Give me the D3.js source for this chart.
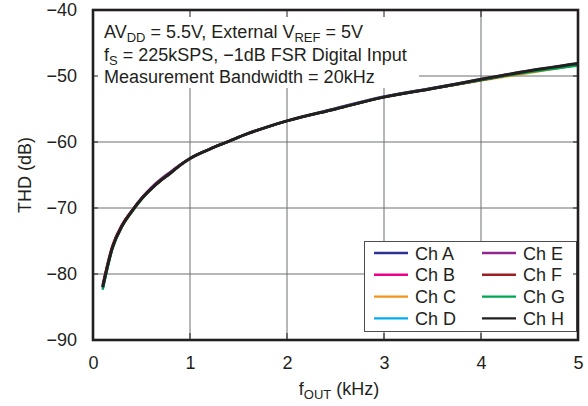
<!DOCTYPE html>
<html>
<head>
<meta charset="utf-8">
<script src="https://cdn.jsdelivr.net/npm/d3@7"></script>
<style>
  html, body { margin: 0; padding: 0; background: #fff; }
  svg { display: block; font-family: "Liberation Sans", Arial, Helvetica, sans-serif; }
</style>
</head>
<body>
<svg id="chart" width="588" height="406"></svg>
<script>
// ---- data ----
const freqKHz = [0.1,0.2,0.3,0.4,0.5,0.6,0.7,0.8,0.9,1.0,1.2,1.4,1.6,1.8,2.0,2.5,3.0,3.5,4.0,4.5,5.0];
const chA = [-81.9,-76.0,-72.7,-70.5,-68.6,-67.0,-65.8,-64.6,-63.5,-62.5,-61.1,-59.9,-58.7,-57.7,-56.8,-54.9,-53.1,-51.8,-50.5,-49.2,-48.1];
const chB = [-81.8,-75.9,-72.6,-70.5,-68.6,-67.1,-65.8,-64.7,-63.5,-62.5,-61.1,-59.9,-58.7,-57.7,-56.8,-55.0,-53.2,-51.9,-50.6,-49.3,-48.2];
const chC = [-82.1,-76.1,-72.8,-70.6,-68.7,-67.1,-65.8,-64.7,-63.5,-62.5,-61.1,-59.9,-58.7,-57.7,-56.8,-55.0,-53.2,-51.9,-50.7,-49.5,-48.3];
const chD = [-82.2,-76.1,-72.7,-70.5,-68.6,-67.1,-65.8,-64.7,-63.5,-62.5,-61.1,-59.9,-58.7,-57.7,-56.8,-55.0,-53.2,-51.9,-50.6,-49.3,-48.2];
const chE = [-81.9,-76.0,-72.6,-70.4,-68.5,-66.9,-65.6,-64.5,-63.4,-62.5,-61.1,-59.9,-58.7,-57.7,-56.8,-55.0,-53.2,-51.9,-50.6,-49.3,-48.2];
const chF = [-81.6,-75.7,-72.5,-70.4,-68.6,-67.1,-65.8,-64.7,-63.5,-62.5,-61.1,-59.9,-58.7,-57.7,-56.8,-55.0,-53.2,-51.9,-50.6,-49.3,-48.2];
const chG = [-82.4,-76.2,-72.8,-70.6,-68.7,-67.1,-65.8,-64.7,-63.5,-62.5,-61.1,-59.9,-58.7,-57.7,-56.8,-55.0,-53.2,-51.9,-50.6,-49.4,-48.4];
const chH = [-82.0,-76.0,-72.7,-70.5,-68.6,-67.1,-65.8,-64.7,-63.5,-62.5,-61.1,-59.9,-58.7,-57.7,-56.8,-55.0,-53.2,-51.9,-50.5,-49.2,-48.1];
const seriesNames = ["Ch A","Ch B","Ch C","Ch D","Ch E","Ch F","Ch G","Ch H"];
const seriesColors = ["#2e3192","#ec008c","#f7941d","#00aeef","#92278f","#9e1f24","#00a651","#231f20"];
const xTicks = [0,1,2,3,4,5];
const yTicks = [-90,-80,-70,-60,-50,-40];

const allSeries = [chA,chB,chC,chD,chE,chF,chG,chH];

// ---- layout ----
const svg = d3.select("#chart");
const L = 93, R = 578, T = 10, B = 340;
const FS = 18, SUB = 13;
const x = d3.scaleLinear().domain([0,5]).range([L,R]);
const y = d3.scaleLinear().domain([-90,-40]).range([B,T]);
const ink = "#231f20";
const fmt = d => d < 0 ? "\u2212" + Math.abs(d) : String(d);

// gridlines
const grid = svg.append("g").attr("stroke","#6d6e71").attr("stroke-width",1);
grid.selectAll("line.v").data(xTicks.slice(1,-1)).join("line")
  .attr("x1", d => x(d)).attr("x2", d => x(d)).attr("y1", T).attr("y2", B);
grid.selectAll("line.h").data(yTicks.slice(1,-1)).join("line")
  .attr("x1", L).attr("x2", R).attr("y1", d => y(d)).attr("y2", d => y(d));

// curves
const line = d3.line().x((d,i) => x(freqKHz[i])).y(d => y(d)).curve(d3.curveMonotoneX);
svg.append("g").selectAll("path").data(allSeries).join("path")
  .attr("d", d => line(d))
  .attr("fill","none")
  .attr("stroke",(d,i) => seriesColors[i])
  .attr("stroke-width",(d,i) => i === 7 ? 3 : 2.4)
  .attr("stroke-linejoin","round");

// annotation box (white, no border)
svg.append("rect").attr("x",L).attr("y",T).attr("width",419-L).attr("height",88-T).attr("fill","#fff");
const ann = svg.append("g").attr("fill",ink).attr("font-size",FS);
const t1 = ann.append("text").attr("x",104).attr("y",38);
t1.append("tspan").text("AV");
t1.append("tspan").attr("font-size",SUB).attr("dy",4).text("DD");
t1.append("tspan").attr("dy",-4).text(" = 5.5V, External V");
t1.append("tspan").attr("font-size",SUB).attr("dy",4).text("REF");
t1.append("tspan").attr("dy",-4).text(" = 5V");
const t2 = ann.append("text").attr("x",104).attr("y",61);
t2.append("tspan").text("f");
t2.append("tspan").attr("font-size",SUB).attr("dy",4).text("S");
t2.append("tspan").attr("dy",-4).text(" = 225kSPS, \u22121dB FSR Digital Input");
ann.append("text").attr("x",104).attr("y",83).text("Measurement Bandwidth = 20kHz");

// legend
const lg = svg.append("g");
lg.append("rect").attr("x",364.5).attr("y",241.5).attr("width",212).attr("height",90)
  .attr("fill","#fff").attr("stroke","#4d4d4f").attr("stroke-width",1);
seriesNames.forEach((name,i) => {
  const col = Math.floor(i/4), row = i % 4;
  const lx = 374 + col*108, ly = 253 + row*21.8;
  lg.append("line").attr("x1",lx).attr("x2",lx+34).attr("y1",ly).attr("y2",ly)
    .attr("stroke",seriesColors[i]).attr("stroke-width",2.4);
  lg.append("text").attr("x",lx+41).attr("y",ly+6.5).attr("font-size",FS).attr("fill",ink).text(name);
});

// inward ticks on all four sides
const tk = svg.append("g").attr("stroke",ink).attr("stroke-width",1);
tk.selectAll("line.b").data(xTicks).join("line")
  .attr("x1",d=>x(d)).attr("x2",d=>x(d)).attr("y1",B).attr("y2",B-7);
tk.selectAll("line.t").data(xTicks).join("line")
  .attr("x1",d=>x(d)).attr("x2",d=>x(d)).attr("y1",T).attr("y2",T+7);
tk.selectAll("line.l").data(yTicks).join("line")
  .attr("x1",L).attr("x2",L+5).attr("y1",d=>y(d)).attr("y2",d=>y(d));
tk.selectAll("line.r").data(yTicks).join("line")
  .attr("x1",R).attr("x2",R-5).attr("y1",d=>y(d)).attr("y2",d=>y(d));

// frame
svg.append("rect").attr("x",L).attr("y",T).attr("width",R-L).attr("height",B-T)
  .attr("fill","none").attr("stroke",ink).attr("stroke-width",2.6);

// axis tick labels via d3 axes (domain/ticks hidden)
const xAxis = d3.axisBottom(x).tickValues(xTicks).tickFormat(fmt).tickSize(0).tickPadding(16);
const gx = svg.append("g").attr("transform",`translate(0,${B})`).call(xAxis);
const yAxis = d3.axisLeft(y).tickValues(yTicks).tickFormat(fmt).tickSize(0).tickPadding(16);
const gy = svg.append("g").attr("transform",`translate(${L},0)`).call(yAxis);
[gx,gy].forEach(g => {
  g.select(".domain").remove();
  g.selectAll("text").attr("font-size",FS).attr("fill",ink).attr("font-family","Liberation Sans, Arial, sans-serif");
});

// axis titles
const xt = svg.append("text").attr("x",339).attr("y",395).attr("text-anchor","middle")
  .attr("font-size",FS).attr("fill",ink);
xt.append("tspan").text("f");
xt.append("tspan").attr("font-size",SUB).attr("dy",4).text("OUT");
xt.append("tspan").attr("dy",-4).text(" (kHz)");
svg.append("text").attr("transform",`translate(31,${(T+B)/2}) rotate(-90)`)
  .attr("text-anchor","middle").attr("font-size",FS).attr("fill",ink).text("THD (dB)");
</script>
</body>
</html>
